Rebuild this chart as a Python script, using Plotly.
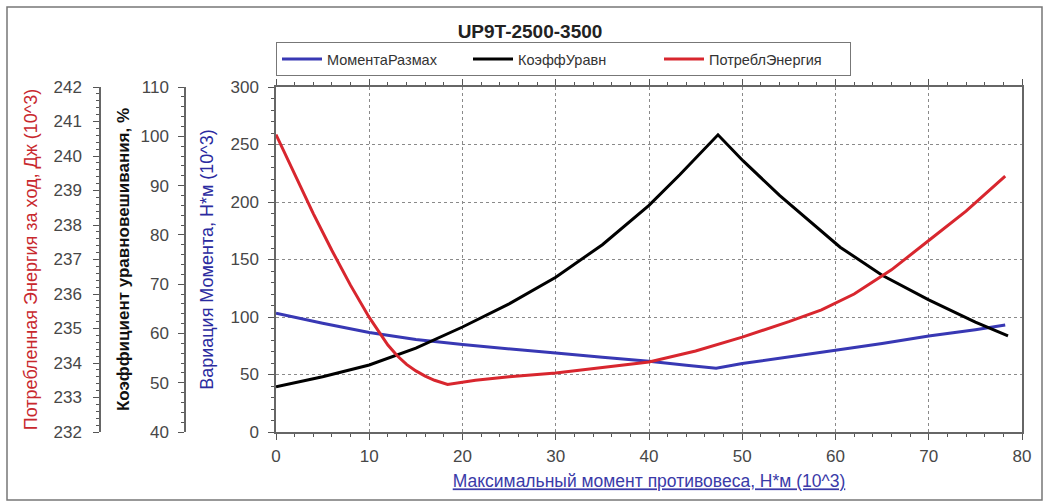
import plotly.graph_objects as go

# ---- data ----
x_moment = [0, 5, 10, 15, 20, 25, 30, 35, 40, 44, 47.2, 50, 55, 60, 65, 70, 75, 78.2]
moment_range = [103.2, 94.5, 86.5, 80.5, 76, 72, 68.6, 65, 61.5, 58, 55.5, 59.5, 65, 71, 77, 83.5, 89, 93]

x_coef = [0, 5, 10, 15, 20, 25, 30, 35, 40, 43.3, 47.4, 50.1, 54, 60.5, 65, 70, 75, 78.5]
balance_coef = [49.2, 51.2, 53.6, 57.0, 61.3, 66, 71.4, 78.0, 86.0, 92.2, 100.3, 95.0, 88.0, 77.5, 71.8, 66.8, 62.3, 59.5]

x_energy = [0, 2, 4, 6, 8, 10, 12, 13, 14, 15, 16, 17, 18.4, 21.4, 25, 30, 35, 40, 45,
            50, 55, 58.5, 62, 66, 70, 74, 78.2]
energy = [240.62, 239.45, 238.33, 237.26, 236.25, 235.32, 234.52, 234.21, 233.96, 233.77, 233.62,
          233.5, 233.38, 233.5, 233.6, 233.71, 233.86, 234.03, 234.35, 234.75, 235.2, 235.54,
          236.0, 236.7, 237.55, 238.4, 239.42]

names = ["МоментаРазмах", "КоэффУравн", "ПотреблЭнергия"]
title_text = "UP9T-2500-3500"
x_title = "Максимальный момент противовеса, Н*м (10^3)"
y1_title = "Вариация Момента, Н*м (10^3)"
y2_title = "Коэффициент уравновешивания, %"
y3_title = "Потребленная Энергия за ход, Дж (10^3)"

BLUE = "#3838b4"
RED = "#d8262e"
BLACK = "#000000"
TICKC = "#474747"
FONT = "Liberation Sans, Arial, sans-serif"

fig = go.Figure()
fig.add_trace(go.Scatter(x=x_moment, y=moment_range, name=names[0], mode="lines",
                         line=dict(color=BLUE, width=3), yaxis="y"))
fig.add_trace(go.Scatter(x=x_coef, y=balance_coef, name=names[1], mode="lines",
                         line=dict(color=BLACK, width=3), yaxis="y2"))
fig.add_trace(go.Scatter(x=x_energy, y=energy, name=names[2], mode="lines",
                         line=dict(color=RED, width=3), yaxis="y3"))

W, H = 1044, 504
ml, mr, mt, mb = 20, 22, 87, 72
pw = W - ml - mr
ph = H - mt - mb
def px2paper(px):
    return (px - ml) / pw
def py2paper(py):
    return (H - mb - py) / ph

axcommon = dict(showline=True, linecolor="#666", linewidth=1.5, ticks="outside",
                tickcolor="#555", ticklen=6, tickfont=dict(size=17, color=TICKC, family=FONT),
                zeroline=False)

fig.update_layout(
    width=W, height=H,
    margin=dict(l=ml, r=mr, t=mt, b=mb),
    paper_bgcolor="white", plot_bgcolor="white",
    font=dict(family=FONT),
    title=dict(text="<b>" + title_text + "</b>", x=530 / W, xref="container", xanchor="center",
               y=1 - 31 / H, yref="container", yanchor="middle",
               font=dict(size=19, color="#222", family=FONT)),
    showlegend=True,
    legend=dict(orientation="h", x=px2paper(276), xanchor="left", y=py2paper(76), yanchor="bottom",
                bordercolor="#777", borderwidth=1, bgcolor="white",
                font=dict(size=14.5, color="#333", family=FONT),
                itemwidth=40, entrywidth=136, entrywidthmode="pixels"),
    xaxis=dict(domain=[px2paper(276), 1], range=[0, 80], dtick=10,
               showgrid=True, gridcolor="#8a8a8a", griddash="dot", gridwidth=1,
               mirror="ticks", ticklabelstandoff=2,
               minor=dict(dtick=2, ticks="outside", ticklen=3, tickcolor="#555"),
               title=dict(text="<u>" + x_title + "</u>", standoff=10,
                          font=dict(size=17.5, color="#3a3aa8", family=FONT)),
               **axcommon),
    yaxis=dict(range=[0, 300], dtick=50, side="left", anchor="x",
               showgrid=True, gridcolor="#8a8a8a", griddash="dot", gridwidth=1,
               mirror=True, ticklabelstandoff=6,
               minor=dict(dtick=10, ticks="outside", ticklen=3, tickcolor="#555"),
               title=dict(text=y1_title, standoff=12,
                          font=dict(size=18, color="#2b2ba0", family=FONT)),
               **axcommon),
    yaxis2=dict(range=[40, 110], dtick=10, side="left", anchor="free", overlaying="y",
                position=px2paper(185), showgrid=False, ticklabelstandoff=6,
                minor=dict(dtick=2, ticks="outside", ticklen=3, tickcolor="#555"),
                title=dict(text="<b>" + y2_title + "</b>", standoff=6,
                           font=dict(size=17, color="#111", family=FONT)),
                **axcommon),
    yaxis3=dict(range=[232, 242], dtick=1, side="left", anchor="free", overlaying="y",
                position=px2paper(100), showgrid=False, ticklabelstandoff=8,
                minor=dict(dtick=0.2, ticks="outside", ticklen=3, tickcolor="#555"),
                title=dict(text=y3_title, standoff=10,
                           font=dict(size=18, color="#c8282e", family=FONT)),
                **axcommon),
    shapes=[dict(type="rect", xref="paper", yref="paper",
                 x0=px2paper(7), x1=px2paper(1042), y0=py2paper(500), y1=py2paper(7),
                 line=dict(color="#777", width=1.5), layer="below")],
)

fig.write_html("out.html")
